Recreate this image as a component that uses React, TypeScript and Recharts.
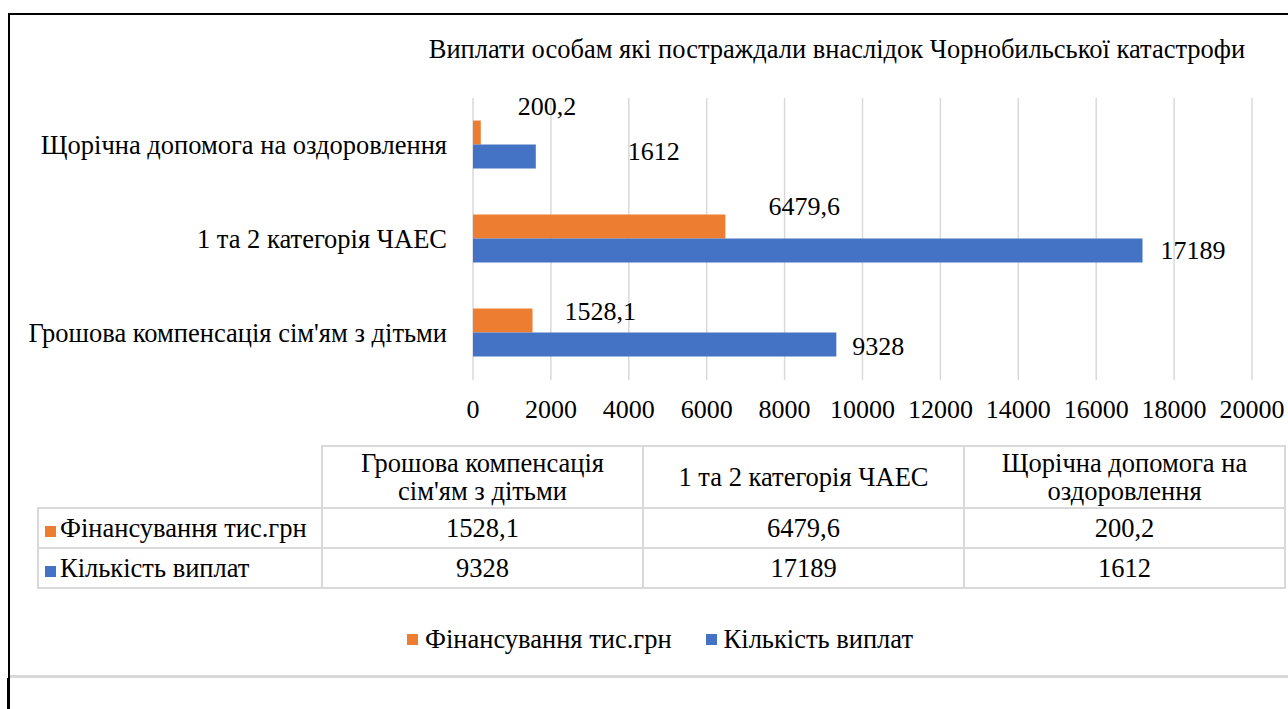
import React from 'react';
import {
  BarChart,
  Bar,
  XAxis,
  YAxis,
  CartesianGrid,
  LabelList,
} from 'recharts';

const categories = [
  "Грошова компенсація сім'ям з дітьми",
  '1 та 2 категорія ЧАЕС',
  'Щорічна допомога на оздоровлення',
];
const funding = [1528.1, 6479.6, 200.2];
const payments = [9328, 17189, 1612];
const xTicks = [0, 2000, 4000, 6000, 8000, 10000, 12000, 14000, 16000, 18000, 20000];

const fundingName = 'Фінансування тис.грн';
const paymentsName = 'Кількість виплат';
const title = 'Виплати особам які постраждали внаслідок Чорнобильської катастрофи';

const ORANGE = '#ED7D31';
const BLUE = '#4472C4';
const GRID = '#d9d9d9';
const FONT = "'Liberation Serif', 'Tinos', 'DejaVu Serif', serif";
const FS = 26.5;
const NUM_FS = 26;

// hand-placed label nudges (dx from bar end, dy from bar centre), as in the source
const fundingNudge = [[32, -9], [43, -20], [37, -26]];
const paymentsNudge = [[16, 2], [18, 0], [92, -5]];

const rows = categories.map((name, i) => ({
  name,
  funding: funding[i],
  payments: payments[i],
}));

const fmt = (v: number) => String(v).replace('.', ',');

const makeLabel = (nudge: number[][]) => (props: any) => {
  const { x, y, width, height, value, index } = props;
  const [dx, dy] = nudge[index] || [10, 0];
  return (
    <text
      x={x + width + dx}
      y={y + height / 2 + dy}
      dominantBaseline="central"
      textAnchor="start"
      style={{ fontFamily: FONT, fontSize: NUM_FS }}
      fill="#000"
    >
      {fmt(value)}
    </text>
  );
};

const CatTick = (props: any) => {
  const { x, y, payload } = props;
  return (
    <text
      x={x}
      y={y}
      textAnchor="end"
      dominantBaseline="central"
      style={{ fontFamily: FONT, fontSize: FS }}
      fill="#000"
    >
      {payload.value}
    </text>
  );
};

const cell: React.CSSProperties = {
  border: `2px solid ${GRID}`,
  textAlign: 'center',
  padding: '0 20px',
  lineHeight: '28px',
};

export default function App() {
  return (
    <div
      style={{
        position: 'absolute',
        left: 0,
        top: 0,
        width: 1288,
        height: 709,
        background: '#fff',
        fontFamily: FONT,
        color: '#000',
        overflow: 'hidden',
      }}
    >
      {/* frame */}
      <div
        style={{
          position: 'absolute',
          left: 8,
          top: 13,
          width: 1290,
          height: 700,
          borderLeft: '2px solid #000',
          borderTop: '2px solid #000',
        }}
      />
      <div
        style={{
          position: 'absolute',
          left: 10,
          top: 675,
          width: 1280,
          height: 3,
          background: GRID,
        }}
      />
      <div
        style={{
          position: 'absolute',
          left: 7,
          top: 678,
          width: 3,
          height: 40,
          background: '#000',
        }}
      />

      {/* title */}
      <div
        style={{
          position: 'absolute',
          left: 337,
          top: 34,
          width: 1000,
          textAlign: 'center',
          fontSize: FS,
          lineHeight: '30px',
          whiteSpace: 'nowrap',
        }}
      >
        {title}
      </div>

      <div style={{ position: 'absolute', left: 0, top: 0 }}>
        <BarChart
          width={1288}
          height={440}
          data={rows}
          layout="vertical"
          margin={{ top: 98, right: 36, bottom: 20, left: 10 }}
          barCategoryGap="24%"
          barGap={0}
        >
          <CartesianGrid horizontal={false} stroke={GRID} strokeWidth={1.5} />
          <XAxis
            type="number"
            domain={[0, 20000]}
            ticks={xTicks}
            interval={0}
            axisLine={false}
            tickLine={false}
            tickSize={0}
            tickMargin={20}
            height={40}
            tick={{ fontFamily: FONT, fontSize: NUM_FS, fill: '#000' }}
          />
          <YAxis
            type="category"
            dataKey="name"
            reversed
            width={463}
            axisLine={false}
            tickLine={false}
            tickSize={0}
            tickMargin={26}
            interval={0}
            tick={<CatTick />}
          />
          <Bar dataKey="funding" name={fundingName} fill={ORANGE} isAnimationActive={false}>
            <LabelList dataKey="funding" content={makeLabel(fundingNudge)} />
          </Bar>
          <Bar dataKey="payments" name={paymentsName} fill={BLUE} isAnimationActive={false}>
            <LabelList dataKey="payments" content={makeLabel(paymentsNudge)} />
          </Bar>
        </BarChart>
      </div>

      {/* data table */}
      <table
        style={{
          position: 'absolute',
          left: 37,
          top: 445,
          width: 1248,
          borderCollapse: 'collapse',
          fontSize: FS,
          tableLayout: 'fixed',
        }}
      >
        <colgroup>
          <col style={{ width: 284 }} />
          <col style={{ width: 321 }} />
          <col style={{ width: 321 }} />
          <col style={{ width: 321 }} />
        </colgroup>
        <tbody>
          <tr style={{ height: 62 }}>
            <td style={{ border: 'none', borderBottom: `2px solid ${GRID}`, borderRight: `2px solid ${GRID}` }} />
            {categories.map((c) => (
              <td key={c} style={cell}>
                {c}
              </td>
            ))}
          </tr>
          {[
            { name: fundingName, color: ORANGE, vals: funding },
            { name: paymentsName, color: BLUE, vals: payments },
          ].map((r) => (
            <tr key={r.name} style={{ height: 40 }}>
              <td style={{ ...cell, textAlign: 'left', padding: '0 0 0 6px', whiteSpace: 'nowrap' }}>
                <span
                  style={{
                    display: 'inline-block',
                    width: 11,
                    height: 11,
                    background: r.color,
                    marginRight: 4,
                  }}
                />
                {r.name}
              </td>
              {r.vals.map((v, i) => (
                <td key={i} style={cell}>
                  {fmt(v)}
                </td>
              ))}
            </tr>
          ))}
        </tbody>
      </table>

      {/* legend */}
      <div
        style={{
          position: 'absolute',
          left: 20,
          top: 624,
          width: 1280,
          display: 'flex',
          justifyContent: 'center',
          gap: 34,
          fontSize: FS,
          lineHeight: '30px',
        }}
      >
        {[
          { name: fundingName, color: ORANGE },
          { name: paymentsName, color: BLUE },
        ].map((l) => (
          <div key={l.name} style={{ display: 'flex', alignItems: 'center' }}>
            <span
              style={{
                display: 'inline-block',
                width: 11,
                height: 11,
                background: l.color,
                marginRight: 7,
              }}
            />
            {l.name}
          </div>
        ))}
      </div>
    </div>
  );
}
